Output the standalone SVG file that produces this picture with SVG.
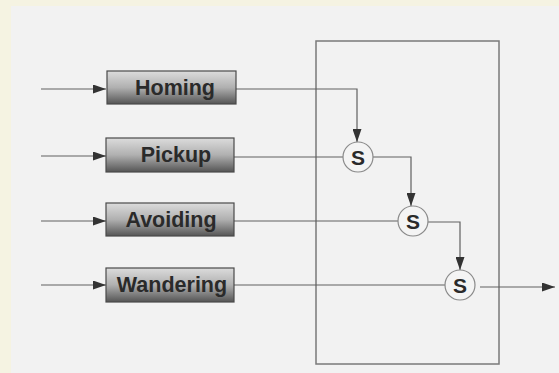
<svg xmlns="http://www.w3.org/2000/svg" width="559" height="373" viewBox="0 0 559 373">
  <style>
    .frame { fill: none; stroke: #7a7a7a; stroke-width: 1.5; }
    .behav rect { fill: url(#boxShade); stroke: #4a4a4a; stroke-width: 1.2; }
    .behav text { font-family: "Liberation Sans", Arial, sans-serif; font-weight: bold; font-size: 21.5px; fill: #2a2a2a; text-anchor: middle; }
    .sup circle { fill: #f4f4f4; stroke: #8a8a8a; stroke-width: 1.2; }
    .sup text { font-family: "Liberation Sans", Arial, sans-serif; font-weight: bold; font-size: 21px; fill: #2a2a2a; text-anchor: middle; }
    .wire { fill: none; stroke: #606060; stroke-width: 1.2; }
  </style>
  <defs>
    <linearGradient id="boxShade" x1="0" y1="0" x2="0" y2="1">
      <stop offset="0" stop-color="#dcdcdc"/>
      <stop offset="0.5" stop-color="#b0b0b0"/>
      <stop offset="1" stop-color="#555555"/>
    </linearGradient>
    <marker id="tip" viewBox="0 0 13 9" refX="13" refY="4.5" markerWidth="13" markerHeight="9" markerUnits="userSpaceOnUse" orient="auto">
      <path d="M0,0 L13,4.5 L0,9 Z" fill="#333333"/>
    </marker>
  </defs>

  <!-- paper -->
  <rect x="0" y="0" width="559" height="373" fill="#f5f3e2"/>
  <rect x="11" y="6" width="548" height="367" fill="#f2f2f2"/>

  <!-- subsumption layer boundary -->
  <rect class="frame" x="316" y="41" width="183" height="323"/>

  <g id="connectors">
    <!-- sensor inputs -->
    <path class="wire" d="M41,89 H106" marker-end="url(#tip)"/>
    <path class="wire" d="M41,156 H106" marker-end="url(#tip)"/>
    <path class="wire" d="M41,221 H106" marker-end="url(#tip)"/>
    <path class="wire" d="M41,285 H106" marker-end="url(#tip)"/>
    <!-- behaviour outputs -->
    <path class="wire" d="M235,89 H357 V142" marker-end="url(#tip)"/>
    <path class="wire" d="M234,157 H343"/>
    <path class="wire" d="M373,157 H411 V206" marker-end="url(#tip)"/>
    <path class="wire" d="M234,221 H398"/>
    <path class="wire" d="M428,222 H460 V270" marker-end="url(#tip)"/>
    <path class="wire" d="M234,285 H445"/>
    <path class="wire" d="M480,287 H555" marker-end="url(#tip)"/>
  </g>

  <g id="homing" class="behav">
    <rect x="107" y="71" width="129" height="33"/>
    <text x="175" y="95">Homing</text>
  </g>
  <g id="pickup" class="behav">
    <rect x="106" y="138" width="128" height="34"/>
    <text x="176" y="162">Pickup</text>
  </g>
  <g id="avoiding" class="behav">
    <rect x="106" y="203" width="128" height="33"/>
    <text x="171" y="227">Avoiding</text>
  </g>
  <g id="wandering" class="behav">
    <rect x="106" y="268" width="128" height="34"/>
    <text x="172" y="292">Wandering</text>
  </g>

  <g id="s1" class="sup">
    <circle cx="358" cy="157" r="15"/>
    <text x="358" y="164.5">S</text>
  </g>
  <g id="s2" class="sup">
    <circle cx="413" cy="221" r="15"/>
    <text x="413" y="228.5">S</text>
  </g>
  <g id="s3" class="sup">
    <circle cx="460" cy="285" r="15"/>
    <text x="460" y="292.5">S</text>
  </g>
</svg>
